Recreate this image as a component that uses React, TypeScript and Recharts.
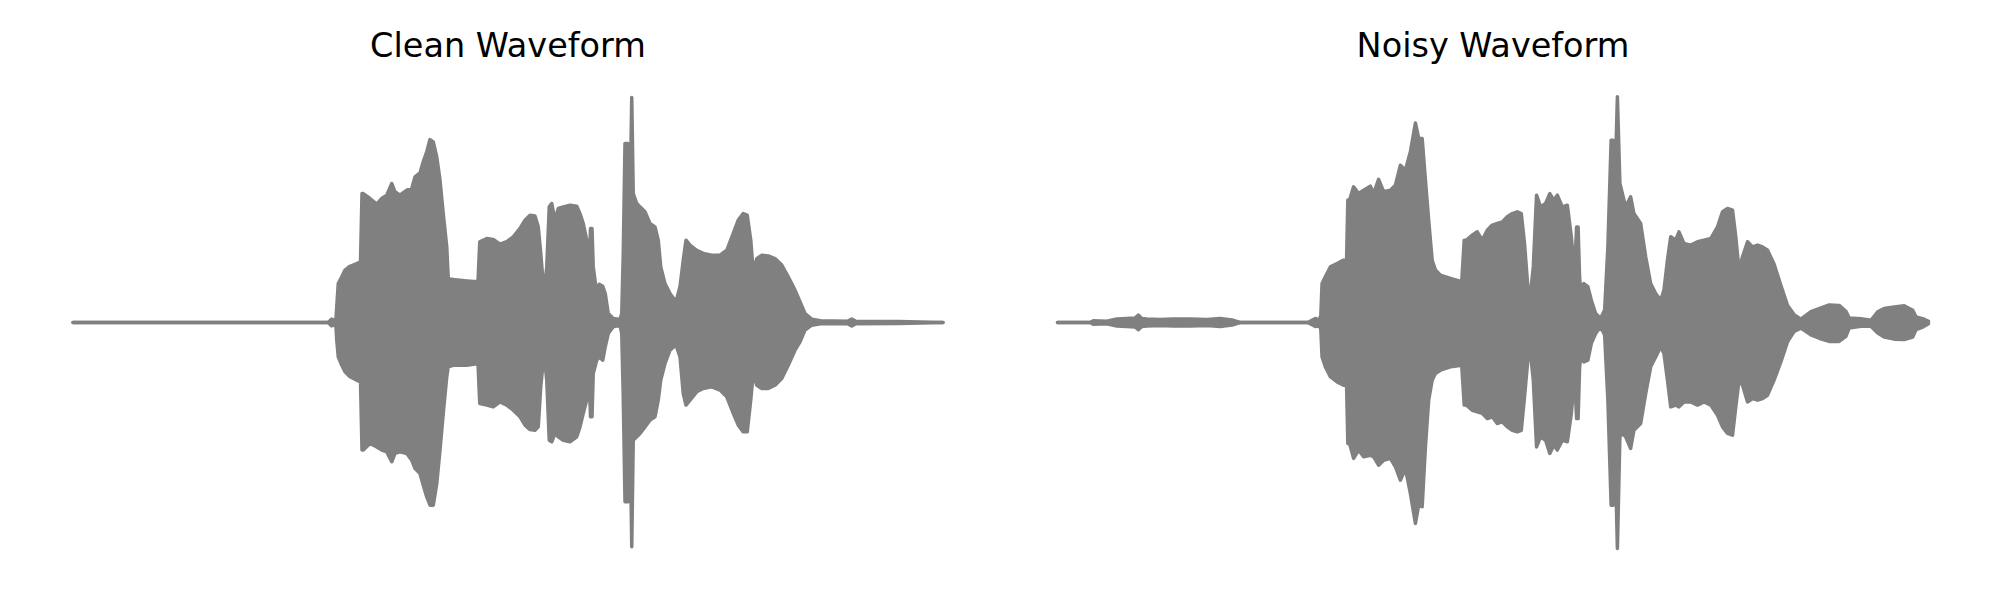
import { AreaChart, Area, XAxis, YAxis } from 'recharts'

// time in ms, envelope (amplitude, peak = 1)
const cleanTime = [
  0, 1020, 1035, 1045, 1052, 1055, 1061, 1075, 1088, 1108, 1135, 1150, 1156, 1161, 1188, 1215, 1235, 1255, 1275, 1288,
  1308, 1335, 1355, 1368, 1388, 1401, 1415, 1428, 1441, 1455, 1468, 1481, 1495, 1501, 1521, 1575, 1620, 1627, 1655, 1681,
  1708, 1735, 1761, 1788, 1808, 1828, 1848, 1861, 1871, 1884, 1895, 1905, 1915, 1928, 1941, 1961, 1988, 2015, 2028, 2041,
  2055, 2065, 2070, 2076, 2081, 2095, 2105, 2119, 2129, 2141, 2161, 2188, 2195, 2201, 2208, 2220, 2229, 2235, 2241, 2255,
  2268, 2288, 2308, 2328, 2341, 2351, 2368, 2388, 2412, 2428, 2441, 2452, 2468, 2495, 2521, 2555, 2588, 2615, 2641, 2661,
  2681, 2697, 2711, 2721, 2735, 2755, 2781, 2808, 2835, 2861, 2888, 2908, 2928, 2955, 2990, 3100, 3115, 3130, 3300, 3480,
]
const cleanUpper = [
  0, 0, 0.015, 0.008, 0.02, 0.07, 0.173, 0.203, 0.233, 0.25, 0.262, 0.27, 0.573, 0.573, 0.551, 0.526, 0.551, 0.566, 0.618, 0.581,
  0.566, 0.588, 0.596, 0.647, 0.665, 0.714, 0.759, 0.813, 0.803, 0.736, 0.633, 0.484, 0.336, 0.196, 0.191, 0.185, 0.181, 0.359, 0.373, 0.369,
  0.348, 0.359, 0.381, 0.418, 0.455, 0.477, 0.473, 0.425, 0.307, 0.129, 0.247, 0.514, 0.529, 0.455, 0.507, 0.514, 0.521, 0.517, 0.484, 0.44,
  0.366, 0.247, 0.418, 0.418, 0.247, 0.129, 0.17, 0.161, 0.129, 0.04, 0.018, 0.013, 0.04, 0.307, 0.796, 0.796, 0.588, 1.0, 0.573, 0.529,
  0.514, 0.492, 0.44, 0.425, 0.366, 0.247, 0.173, 0.129, 0.092, 0.159, 0.277, 0.366, 0.344, 0.321, 0.307, 0.299, 0.299, 0.321, 0.396, 0.455,
  0.484, 0.477, 0.366, 0.225, 0.284, 0.299, 0.296, 0.284, 0.255, 0.203, 0.144, 0.092, 0.04, 0.015, 0.008, 0.006, 0.015, 0.006, 0.004, 0,
]
const cleanLower = [
  0, 0, -0.015, -0.008, -0.02, -0.078, -0.153, -0.19, -0.219, -0.241, -0.256, -0.264, -0.567, -0.567, -0.538, -0.553, -0.567, -0.575, -0.619, -0.582,
  -0.575, -0.582, -0.612, -0.649, -0.671, -0.723, -0.775, -0.812, -0.812, -0.716, -0.567, -0.404, -0.241, -0.197, -0.19, -0.19, -0.182, -0.36, -0.367, -0.375,
  -0.353, -0.367, -0.39, -0.419, -0.456, -0.476, -0.479, -0.464, -0.286, -0.138, -0.256, -0.523, -0.53, -0.493, -0.508, -0.523, -0.53, -0.508, -0.464, -0.404,
  -0.345, -0.256, -0.419, -0.419, -0.227, -0.167, -0.153, -0.167, -0.108, -0.049, -0.019, -0.012, -0.05, -0.33, -0.797, -0.797, -0.523, -0.997, -0.523, -0.508,
  -0.493, -0.464, -0.434, -0.419, -0.345, -0.256, -0.182, -0.123, -0.1, -0.153, -0.316, -0.367, -0.345, -0.308, -0.293, -0.286, -0.3, -0.33, -0.404, -0.456,
  -0.486, -0.486, -0.345, -0.227, -0.279, -0.293, -0.293, -0.279, -0.249, -0.19, -0.123, -0.086, -0.034, -0.012, -0.006, -0.006, -0.015, -0.006, -0.004, 0,
]

const noisyTime = [
  0, 130, 143, 197, 237, 277, 310, 323, 337, 357, 410, 463, 530, 597, 650, 697, 730, 1000, 1030, 1045,
  1052, 1057, 1070, 1090, 1117, 1143, 1155, 1160, 1167, 1183, 1203, 1223, 1250, 1263, 1283, 1303, 1330, 1350, 1370, 1390,
  1410, 1430, 1443, 1457, 1470, 1483, 1497, 1510, 1530, 1570, 1615, 1625, 1634, 1657, 1677, 1697, 1717, 1737, 1757, 1777,
  1797, 1817, 1837, 1853, 1866, 1879, 1890, 1901, 1914, 1930, 1950, 1967, 1983, 1997, 2017, 2037, 2053, 2066, 2074, 2080,
  2086, 2090, 2103, 2119, 2133, 2150, 2170, 2186, 2199, 2212, 2220, 2228, 2237, 2247, 2257, 2270, 2290, 2303, 2330, 2350,
  2370, 2390, 2410, 2423, 2437, 2450, 2470, 2483, 2503, 2530, 2557, 2583, 2610, 2637, 2657, 2677, 2697, 2710, 2723, 2737,
  2757, 2777, 2797, 2817, 2837, 2863, 2890, 2917, 2943, 2970, 3010, 3043, 3083, 3123, 3150, 3163, 3210, 3250, 3277, 3303,
  3343, 3383, 3417, 3430, 3457, 3480,
]
const noisyUpper = [
  0, 0, 0.008, 0.006, 0.016, 0.018, 0.02, 0.033, 0.018, 0.016, 0.013, 0.016, 0.016, 0.013, 0.018, 0.011, 0, 0, 0.018, 0.01,
  0.03, 0.173, 0.203, 0.247, 0.262, 0.277, 0.28, 0.544, 0.544, 0.603, 0.573, 0.588, 0.606, 0.573, 0.636, 0.581, 0.588, 0.61, 0.699, 0.677,
  0.759, 0.887, 0.818, 0.818, 0.633, 0.455, 0.277, 0.233, 0.21, 0.196, 0.181, 0.366, 0.366, 0.388, 0.403, 0.366, 0.41, 0.433, 0.44, 0.447,
  0.47, 0.484, 0.492, 0.484, 0.351, 0.159, 0.129, 0.247, 0.566, 0.514, 0.529, 0.573, 0.544, 0.566, 0.514, 0.521, 0.381, 0.218, 0.425, 0.425,
  0.2, 0.144, 0.173, 0.159, 0.099, 0.04, 0.018, 0.055, 0.336, 0.81, 0.81, 0.633, 1.003, 0.618, 0.573, 0.514, 0.559, 0.484, 0.44, 0.292,
  0.173, 0.129, 0.099, 0.144, 0.277, 0.381, 0.366, 0.403, 0.351, 0.344, 0.359, 0.366, 0.373, 0.425, 0.492, 0.507, 0.499, 0.381, 0.233, 0.292,
  0.359, 0.336, 0.344, 0.336, 0.321, 0.26, 0.165, 0.075, 0.035, 0.015, 0.048, 0.062, 0.078, 0.076, 0.05, 0.02, 0.017, 0.01, 0.047, 0.062,
  0.069, 0.074, 0.054, 0.025, 0.017, 0.005,
]
const noisyLower = [
  0, 0, -0.008, -0.006, -0.016, -0.018, -0.02, -0.032, -0.018, -0.016, -0.013, -0.016, -0.016, -0.013, -0.018, -0.011, 0, 0, -0.018, -0.01,
  -0.03, -0.153, -0.197, -0.241, -0.264, -0.279, -0.28, -0.538, -0.538, -0.604, -0.567, -0.597, -0.59, -0.597, -0.634, -0.612, -0.604, -0.641, -0.701, -0.649,
  -0.76, -0.893, -0.812, -0.819, -0.553, -0.345, -0.256, -0.227, -0.212, -0.197, -0.19, -0.367, -0.367, -0.39, -0.397, -0.404, -0.427, -0.419, -0.449, -0.441,
  -0.464, -0.479, -0.486, -0.479, -0.33, -0.167, -0.138, -0.256, -0.553, -0.508, -0.523, -0.582, -0.545, -0.567, -0.523, -0.53, -0.404, -0.241, -0.427, -0.427,
  -0.2, -0.153, -0.175, -0.167, -0.093, -0.049, -0.019, -0.056, -0.345, -0.812, -0.812, -0.582, -1.004, -0.508, -0.493, -0.508, -0.56, -0.479, -0.449, -0.316,
  -0.197, -0.153, -0.108, -0.138, -0.256, -0.375, -0.367, -0.375, -0.353, -0.353, -0.367, -0.353, -0.367, -0.412, -0.464, -0.493, -0.501, -0.375, -0.256, -0.279,
  -0.353, -0.338, -0.345, -0.338, -0.323, -0.256, -0.175, -0.085, -0.04, -0.025, -0.055, -0.07, -0.084, -0.084, -0.062, -0.025, -0.017, -0.017, -0.047, -0.065,
  -0.074, -0.076, -0.065, -0.032, -0.02, -0.005,
]

const titles = ['Clean Waveform', 'Noisy Waveform']

const GRAY = '#808080'

function toRows(time: number[], upper: number[], lower: number[]) {
  return time.map((t, i) => ({ t, range: [lower[i], upper[i]] }))
}

function Waveform({ rows, left, margin }: { rows: any[]; left: number; margin: any }) {
  return (
    <div style={{ position: 'absolute', left, top: 0 }}>
      <AreaChart width={1000} height={600} data={rows} margin={margin}>
        <XAxis dataKey="t" type="number" domain={[0, 3480]} hide />
        <YAxis type="number" domain={[-1.1, 1.1]} hide />
        <Area
          dataKey="range"
          type="linear"
          fill={GRAY}
          fillOpacity={1}
          stroke={GRAY}
          strokeWidth={3.5}
          strokeLinecap="round"
          strokeLinejoin="round"
          isAnimationActive={false}
          dot={false}
          activeDot={false}
        />
      </AreaChart>
    </div>
  )
}

export default function App() {
  const clean = toRows(cleanTime, cleanUpper, cleanLower)
  const noisy = toRows(noisyTime, noisyUpper, noisyLower)
  return (
    <div style={{ position: 'absolute', left: 0, top: 0, width: 2000, height: 600, background: '#fff' }}>
      <Waveform rows={clean} left={0} margin={{ top: 75, right: 57, bottom: 30, left: 73 }} />
      <Waveform rows={noisy} left={1000} margin={{ top: 75, right: 71.5, bottom: 30, left: 57.5 }} />
      <svg width={2000} height={600} style={{ position: 'absolute', left: 0, top: 0, pointerEvents: 'none' }}>
        <text x={508} y={57} textAnchor="middle" fontFamily="DejaVu Sans" fontSize={33.5} fill="#000">
          {titles[0]}
        </text>
        <text x={1493} y={57} textAnchor="middle" fontFamily="DejaVu Sans" fontSize={33.5} fill="#000">
          {titles[1]}
        </text>
      </svg>
    </div>
  )
}
